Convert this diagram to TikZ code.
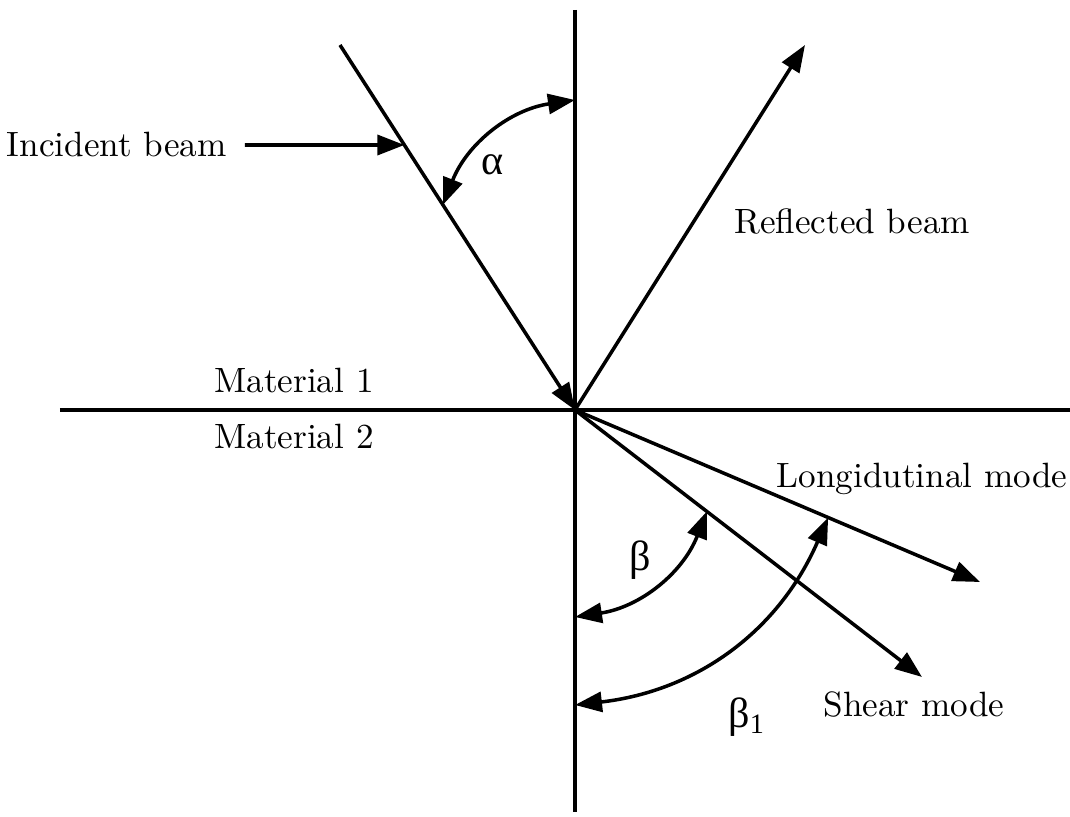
\documentclass[tikz,border=0pt]{standalone}
\usepackage{fontspec}
\newfontfamily\grk{Liberation Serif}
\usetikzlibrary{arrows.meta,calc}

\begin{document}
\begin{tikzpicture}[line width=1pt, every node/.style={font=\normalsize},
  tip/.style={-{Triangle[length=0.27cm,width=0.2cm]}},
  twotip/.style={{Triangle[length=0.27cm,width=0.2cm]}-{Triangle[length=0.27cm,width=0.2cm]}}]
  \useasboundingbox (-5.75,-4.07) rectangle (4.95,4.10);
  % normal and interface
  \coordinate (O) at (0,0);
  \coordinate (top) at (0,4.00);
  \coordinate (bot) at (0,-4.02);
  \coordinate (left) at (-5.15,0);
  \coordinate (right) at (4.95,0);
  \draw (top) -- (bot);
  \draw (left) -- (right);
  % beams
  \coordinate (inc) at (-2.35,3.65);
  \coordinate (refl) at (2.30,3.65);
  \coordinate (long) at (4.05,-1.72);
  \coordinate (shear) at (3.47,-2.67);
  \draw[tip] (inc) -- (O);
  \foreach \b in {refl, long, shear} {
    \draw[tip] (O) -- (\b);
  }
  % labels
  \node[anchor=east] (inclab) at (-3.35,2.65) {Incident beam};
  \draw[tip] ([xshift=0.5mm]inclab.east) -- ($(O)!0.726!(inc)$);
  \node (refllab) at (2.77,1.88) {Reflected beam};
  \node (mat1) at (-2.81,0.29) {Material 1};
  \node (mat2) at (-2.81,-0.27) {Material 2};
  \node (longlab) at (3.47,-0.69) {Longidutinal mode};
  \node (shearlab) at (3.39,-2.95) {Shear mode};
  % angles
  \draw[twotip] ($(O)!0.562!(inc)$) to[bend left=30] (0,3.10);
  \draw[twotip] ($(O)!0.38!(shear)$) to[bend left=30] (0,-2.07);
  \draw[twotip] ($(O)!0.625!(long)$) to[bend left=30] (0,-2.95);
  \node[font=\grk\large] (alpha) at (-0.82,2.45) {α};
  \node[font=\grk\large] (beta) at (0.65,-1.50) {β};
  \node[font=\grk\large] (beta1) at (1.72,-3.07) {β\textsubscript{1}};
\end{tikzpicture}
\end{document}
